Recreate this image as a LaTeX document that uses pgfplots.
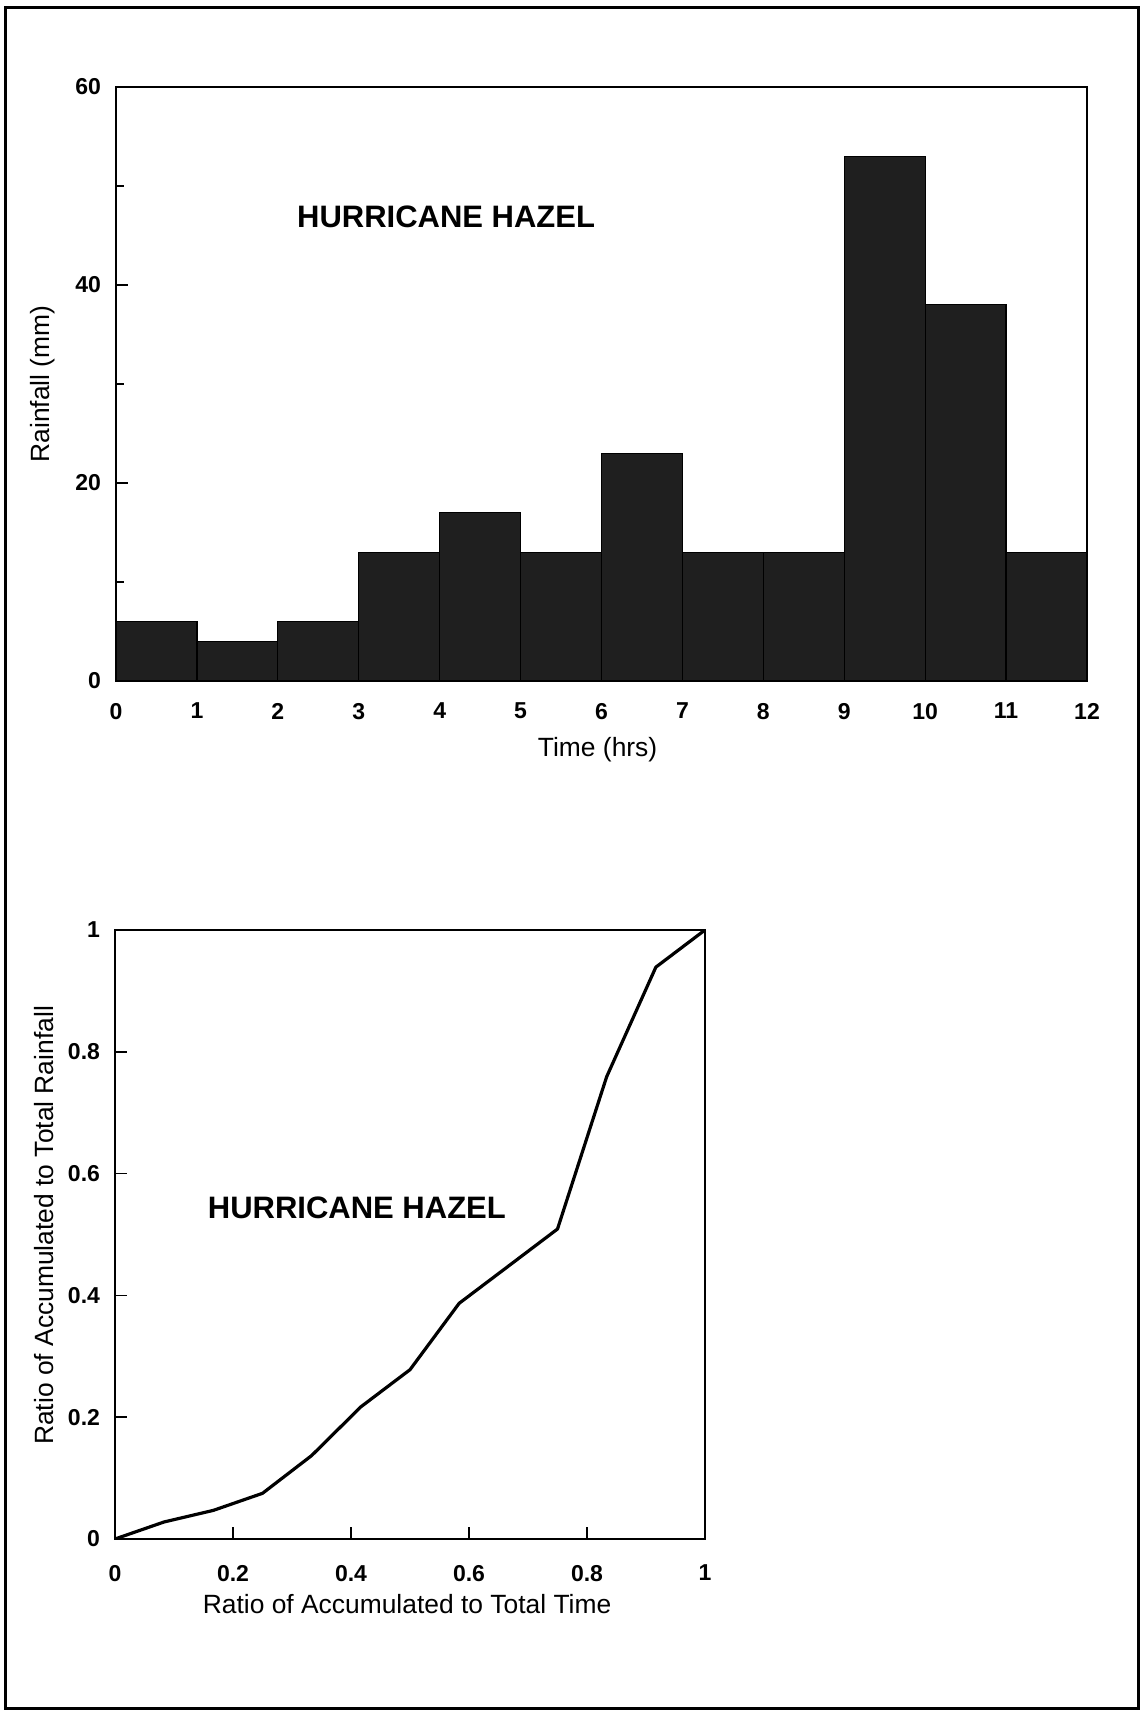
\documentclass[border=0pt]{standalone}
\usepackage{fontspec}
\setmainfont{Liberation Sans}
\usepackage{pgfplots}
\pgfplotsset{compat=1.18}

% hourly rainfall (mm), one value per hour; last row closes the final interval
\pgfplotstableread{
t   rain
0   6
1   4
2   6
3   13
4   17
5   13
6   23
7   13
8   13
9   53
10  38
11  13
12  13
}\rainhourly

% cumulative mass curve: fraction of time vs fraction of total rainfall
\pgfplotstableread{
tt      rr
0       0
0.0833  0.028
0.1667  0.047
0.25    0.075
0.3333  0.137
0.4167  0.217
0.5     0.278
0.5833  0.387
0.6667  0.448
0.75    0.509
0.8333  0.759
0.9167  0.939
1       1
}\raincumul

\pgfplotsset{
  hazel/.style={
    scale only axis,
    anchor=south west,
    axis line style={line width=0.9pt},
    tick style={line width=0.8pt, black},
    tick align=inside,
    xtick pos=bottom,
    ytick pos=left,
    major tick length=6pt,
    minor tick length=4pt,
    /pgf/number format/assume math mode=true,
    ticklabel style={font=\bfseries\fontsize{11.5}{13}\selectfont},
    label style={font=\fontsize{13.2}{15}\selectfont},
    yticklabel style={xshift=-4pt},
  },
}

\begin{document}
\begin{tikzpicture}[x=1pt,y=1pt]
\useasboundingbox (0,0) rectangle (571.5,856);
\draw[line width=1.5pt] (2.5,1.5) rectangle (569,852);

% hourly hyetograph
\begin{axis}[hazel,
  at={(58pt,515.5pt)},
  width=485.5pt, height=297pt,
  xmin=0, xmax=12, ymin=0, ymax=60,
  xtick={0,1,...,12},
  ytick={0,20,40,60},
  minor ytick={10,30,50},
  xticklabel style={yshift=-7.5pt},
  xlabel={Time (hrs)},
  ylabel={Rainfall (mm)},
  xlabel style={at={(axis description cs:0.496,-0.115)}, anchor=center},
  ylabel style={at={(axis description cs:-0.076,0.5)}, anchor=center, rotate=0},
]
\addplot[ybar interval, fill=black!88, draw=black, line width=0.6pt]
  table[x=t, y=rain] {\rainhourly};
\node at (axis cs:4.08,46.9)
  {\bfseries\fontsize{15.5}{18}\selectfont HURRICANE HAZEL};
\end{axis}

% dimensionless mass curve
\begin{axis}[hazel,
  at={(57.5pt,86.5pt)},
  width=295pt, height=304.5pt,
  xmin=0, xmax=1, ymin=0, ymax=1,
  xtick={0,0.2,...,1},
  ytick={0,0.2,...,1},
  xticklabel style={yshift=-9.5pt},
  xlabel={Ratio of Accumulated to Total Time},
  ylabel={Ratio of Accumulated to Total Rainfall},
  xlabel style={at={(axis description cs:0.495,-0.107)}, anchor=center},
  ylabel style={at={(axis description cs:-0.12,0.515)}, anchor=center, rotate=0},
]
\addplot[black, line width=1.6pt, line join=round]
  table[x=tt, y=rr] {\raincumul};
\node at (axis cs:0.41,0.543)
  {\bfseries\fontsize{15.5}{18}\selectfont HURRICANE HAZEL};
\end{axis}
\end{tikzpicture}
\end{document}
